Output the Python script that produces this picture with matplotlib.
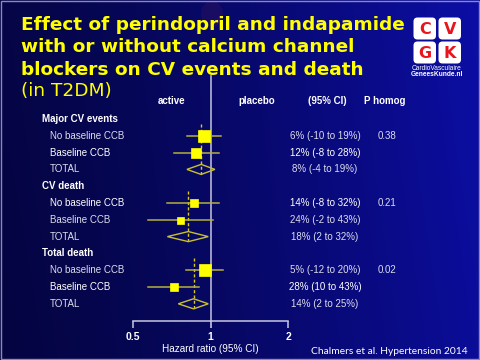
import numpy as np
import matplotlib
matplotlib.use("Agg")
import matplotlib.pyplot as plt
import matplotlib.transforms as mtransforms
from matplotlib.patches import FancyBboxPatch, Polygon, Rectangle, Ellipse

# ---------------- data ----------------
groups = ["Major CV events", "CV death", "Total death"]
subgroups = ["No baseline CCB", "Baseline CCB", "TOTAL"]
hr = [[0.94, 0.88, 0.92], [0.86, 0.76, 0.82], [0.95, 0.72, 0.86]]
lo = [[0.81, 0.72, 0.81], [0.68, 0.57, 0.68], [0.80, 0.57, 0.75]]
hi = [[1.10, 1.08, 1.04], [1.08, 1.02, 0.98], [1.12, 0.90, 0.98]]
ci_text = [["6% (-10 to 19%)", "12% (-8 to 28%)", "8% (-4 to 19%)"],
           ["14% (-8 to 32%)", "24% (-2 to 43%)", "18% (2 to 32%)"],
           ["5% (-12 to 20%)", "28% (10 to 43%)", "14% (2 to 25%)"]]
p_homog = ["0.38", "0.21", "0.02"]
weights = [[12, 10], [8, 7], [12, 8]]          # relative box sizes
xticks = [0.5, 1, 2]
xtick_labels = ["0.5", "1", "2"]
col_headers = ["active", "placebo", "(95% CI)", "P homog"]
title_lines = ["Effect of perindopril and indapamide",
               "with or without calcium channel",
               "blockers on CV events and death"]
subtitle = "(in T2DM)"
citation = "Chalmers et al. Hypertension 2014"

# ---------------- figure ----------------
W, H = 480, 360
fig = plt.figure(figsize=(4.8, 3.6), dpi=100)

bg = fig.add_axes([0, 0, 1, 1])
bg.set_xlim(0, W)
bg.set_ylim(H, 0)
bg.axis("off")
c_left = np.array([0x05, 0x05, 0x48]) / 255
c_right = np.array([0x0c, 0x0e, 0xa6]) / 255
gx = np.linspace(0, 1, 256) ** 1.3
grad = c_left[None, :] * (1 - gx[:, None]) + c_right[None, :] * gx[:, None]
img = np.tile(grad[None, :, :], (60, 1, 1))
vy = np.linspace(0, 1, 60)[:, None, None]
img = img * (1.0 - 0.08 * vy)
bg.imshow(img, extent=[0, W, H, 0], aspect="auto", zorder=0)
bg.add_patch(Ellipse((212, 14), 22, 26, color="#6a2050", alpha=0.18, lw=0, zorder=1))
bg.add_patch(Rectangle((0.5, 0.5), W - 2, H - 1.5, fill=False, ec="#8a8ab8", lw=1.0, zorder=5))

# title
title_font = dict(family="DejaVu Sans", fontweight="bold", fontsize=13.3, color="#ffff00")
for i, line in enumerate(title_lines):
    bg.text(21, 25 + 22.3 * i, line, va="center", ha="left", **title_font)
bg.text(21, 91, subtitle, va="center", ha="left", family="DejaVu Sans",
        fontsize=13.3, color="#ffff00")

# logo
cells = [("C", 413, 17), ("V", 438, 17), ("G", 413, 41), ("K", 438, 41)]
for letter, lx, ly in cells:
    bg.add_patch(FancyBboxPatch((lx + 0.5, ly + 0.5), 22.5, 22,
                                boxstyle="round,pad=0,rounding_size=4",
                                fc="white", ec="none", zorder=3))
    bg.text(lx + 11.8, ly + 12, letter, ha="center", va="center", color="#e8141e",
            fontsize=11.5, fontweight="bold", family="DejaVu Sans", zorder=4)
bg.text(437, 68, "CardioVasculaire", ha="center", va="center", color="white",
        fontsize=4.8, family="Liberation Sans", zorder=4)
bg.text(437, 75, "GeneesKunde.nl", ha="center", va="center", color="white",
        fontsize=4.8, family="Liberation Sans", fontweight="bold", zorder=4)

# citation
bg.text(389, 351, citation, ha="center", va="center", color="white",
        fontsize=7.4, family="Lato")

# ---------------- forest axes ----------------
y0_px, step_px = 119.0, 16.8
def row_of(px):
    return (px - y0_px) / step_px

ax_left, ax_right = 133, 288
ax_top, ax_bot = 102, 321
ax = fig.add_axes([ax_left / W, (H - ax_bot) / H, (ax_right - ax_left) / W, (ax_bot - ax_top) / H])
ax.patch.set_alpha(0)
ax.set_xscale("log")
ax.set_xlim(0.5, 2)
ax.set_ylim(row_of(ax_bot), row_of(ax_top))
for s in ["top", "left", "right"]:
    ax.spines[s].set_visible(False)
ax.spines["bottom"].set_color("#c8c8e0")
ax.spines["bottom"].set_linewidth(1.1)
ax.set_yticks([])
ax.set_xticks(xticks)
ax.set_xticklabels(xtick_labels)
ax.xaxis.set_minor_locator(matplotlib.ticker.NullLocator())
ax.tick_params(axis="x", direction="out", length=5, width=1.1, color="#c8c8e0",
               labelcolor="white", labelsize=7.5, pad=3)
for t in ax.get_xticklabels():
    t.set_fontweight("bold")
    t.set_family("Liberation Sans")
ax.set_xlabel("Hazard ratio (95% CI)", color="white", fontsize=7.2,
              family="Liberation Sans", labelpad=1.5)

# reference line at 1
ax.plot([1, 1], [row_of(327), row_of(76)], color="#a8a8d0", lw=1.3, clip_on=False, zorder=2)

trans = mtransforms.blended_transform_factory(fig.transFigure, ax.transData)
txt = dict(family="Liberation Sans", fontsize=7.0, transform=trans, va="center")

# column headers
hdr_row = row_of(101)
for label, px in zip(col_headers, [172, 257, 327, 385]):
    ax.text(px / W, hdr_row, label, ha="center", color="white", fontweight="bold", **txt)

line_col = "#b4b03c"
diamond_col = "#c8c030"
bright = [[False, True, False], [True, False, False], [False, True, False]]
for g, gname in enumerate(groups):
    base = 4 * g
    ax.text(42 / W, base, gname, ha="left", color="white", fontweight="bold", **txt)
    # dashed line at overall estimate
    ax.plot([hr[g][2], hr[g][2]], [base + 0.3, base + 3.28], color="#d8c820",
            lw=1.0, ls=(0, (2.2, 1.6)), zorder=3)
    for k, sname in enumerate(subgroups):
        r = base + 1 + k
        col = "white" if bright[g][k] else "#dcdcec"
        ax.text(50 / W, r, sname, ha="left", color=col, **txt)
        ax.text(325 / W, r, ci_text[g][k], ha="center", color=col, **txt)
        if k == 0:
            ax.text(378 / W, r, p_homog[g], ha="left", color="#dcdcec", **txt)
        if k < 2:
            ax.plot([lo[g][k], hi[g][k]], [r, r], color=line_col, lw=1.1, zorder=4)
            ax.plot([hr[g][k]], [r], marker="s", ms=weights[g][k] * 0.72,
                    mfc="#ffff00", mec="#ffff00", mew=0.5, zorder=5)
        else:
            dh = 0.3
            poly = Polygon([[lo[g][k], r], [hr[g][k], r - dh], [hi[g][k], r], [hr[g][k], r + dh]],
                           closed=True, fill=False, ec=diamond_col, lw=1.0, zorder=4)
            ax.add_patch(poly)

fig.savefig("out.png", dpi=100)
